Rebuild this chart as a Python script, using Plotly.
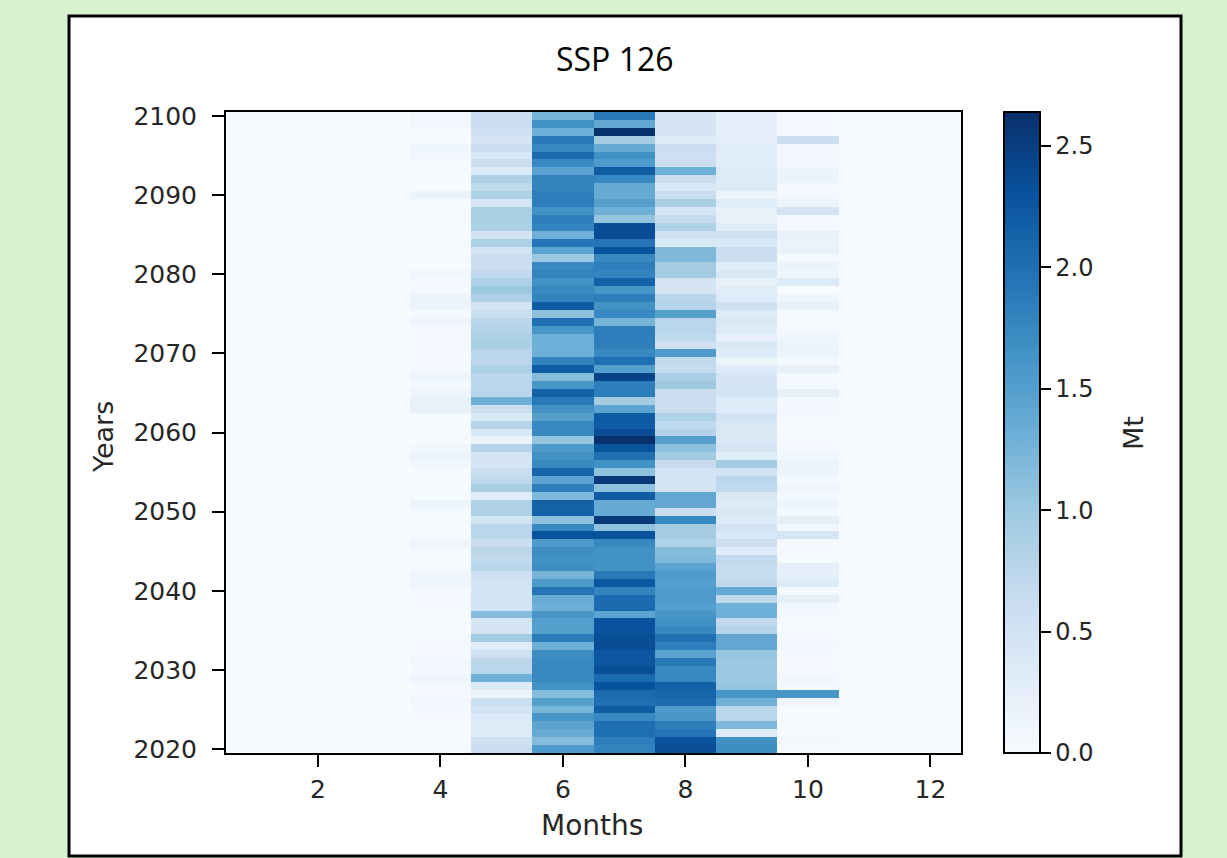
import plotly.graph_objects as go

# ---------------- data ----------------
months = [1, 2, 3, 4, 5, 6, 7, 8, 9, 10, 11, 12]
years = list(range(2020, 2101))

# monthly values (Mt) per year, 2020 -> 2100
jan = [0.0] * 81
feb = [0.0] * 81
mar = [0.0] * 81
apr = [.03, .03, .03, .03, .05, .05, .08, .05, .05, .12,
       .05, .08, .05, .05, .05, .03, .03, .03, .05, .05,
       .05, .12, .12, .05, .03, .05, .12, .05, .03, .03,
       .05, .15, .03, .03, .03, .03, .10, .15, .08, .03,
       .03, .03, .03, .20, .20, .12, .05, .15, .05, .05,
       .05, .05, .05, .05, .12, .05, .15, .15, .05, .05,
       .10, .03, .03, .03, .05, .03, .03, .03, .03, .03,
       .15, .03, .03, .03, .03, .10, .10, .03, .03, .08, .08]
may = [.60, .55, .35, .35, .35, .50, .60, .15, .35, 1.30,
       .75, .75, .55, .30, .95, .45, .45, 1.15, .50, .50,
       .50, .50, .55, .75, .70, .75, .60, .75, .75, .50,
       .85, .85, .30, .90, .70, .60, .45, .45, .80, .15,
       .40, .80, .40, .60, 1.30, .75, .75, .75, .85, .75,
       .75, .90, .85, .80, .75, .60, .50, .85, 1.00, .85,
       .70, .60, .60, .50, .85, .50, .85, .90, .90, .45,
       .85, .70, .85, .35, .60, .40, .60, .45, .55, .60, .60]
jun = [1.55, 1.15, 1.35, 1.45, 1.60, 1.25, 1.50, 1.15, 1.65, 1.75,
       1.75, 1.75, 1.70, 1.30, 1.85, 1.50, 1.50, 1.60, 1.30, 1.35,
       1.95, 1.55, 1.25, 1.70, 1.65, 1.70, 1.55, 2.30, 1.75, 1.10,
       2.15, 2.15, 1.20, 1.85, 1.45, 2.10, 1.75, 1.65, 1.55, 1.05,
       1.75, 1.75, 1.50, 1.65, 1.90, 2.15, 1.60, 1.15, 2.20, 1.80,
       1.30, 1.30, 1.30, 1.60, 2.00, 1.10, 2.20, 1.80, 1.75, 1.65,
       1.80, 1.75, 1.00, 1.45, 1.95, 1.30, 1.80, 1.85, 1.65, 1.85,
       1.85, 1.80, 1.80, 1.45, 1.75, 2.05, 1.75, 1.90, 1.30, 1.65, 1.25]
jul = [1.80, 1.85, 2.00, 2.00, 1.75, 2.20, 2.00, 2.05, 2.30, 2.05,
       2.35, 2.25, 2.25, 2.35, 2.35, 2.30, 2.30, 1.45, 2.05, 2.05,
       1.80, 2.25, 1.90, 1.65, 1.65, 1.65, 1.75, 2.30, 1.10, 2.55,
       1.35, 1.35, 2.20, 1.10, 2.55, 1.10, 1.65, 2.00, 2.30, 2.64,
       2.35, 2.20, 2.20, 1.45, 0.95, 1.85, 1.85, 2.45, 1.50, 2.00,
       1.75, 1.85, 1.85, 1.85, 1.25, 1.75, 1.65, 1.85, 1.60, 2.15,
       1.80, 1.85, 1.75, 2.30, 1.95, 2.35, 2.35, 1.05, 1.30, 1.50,
       1.35, 1.35, 1.75, 2.20, 1.55, 1.65, 1.35, 0.95, 2.64, 1.40, 1.90]
aug = [2.35, 2.30, 1.95, 1.85, 1.60, 1.55, 2.05, 2.10, 2.15, 1.75,
       1.75, 1.90, 1.45, 1.85, 2.00, 1.75, 1.65, 1.60, 1.50, 1.55,
       1.55, 1.50, 1.55, 1.45, 1.20, 1.15, .85, .95, .95, 1.75,
       .60, 1.40, 1.40, .50, .50, .50, .65, .95, 1.10, 1.50,
       .80, .70, .85, .60, .60, .60, 1.00, .90, .65, .70,
       1.55, .55, .70, .75, .75, 1.50, .80, .75, .45, .45,
       .95, .95, 1.20, 1.20, .40, .55, .85, .65, .45, .90,
       .60, .40, .60, 1.30, .60, .55, .60, .35, .45, .45, .45]
sep = [1.70, 1.65, .35, 1.20, .75, .75, 1.30, 1.60, 1.05, 1.00,
       1.00, 1.00, 1.05, 1.40, 1.40, .80, .70, 1.30, 1.30, .70,
       1.35, .70, .65, .65, .70, .35, .60, .40, .50, .35,
       .40, .35, .40, .70, .75, .50, .95, .30, .45, .40,
       .40, .40, .50, .35, .35, .50, .45, .45, .35, .15,
       .35, .40, .20, .35, .40, .35, .55, .35, .30, .20,
       .40, .30, .60, .60, .40, .55, .30, .20, .20, .30,
       .15, .35, .35, .35, .30, .30, .30, .25, .25, .25, .25]
octo = [.03, .08, .03, .03, .03, .03, .10, 1.60, .05, .10,
        .05, .05, .05, .08, .05, .05, .03, .05, .08, .25,
        .05, .35, .25, .25, .03, .05, .05, .45, .08, .25,
        .05, .15, .05, .12, .05, .15, .15, .10, .05, .05,
        .03, .03, .05, .08, .05, .25, .05, .05, .20, .05,
        .15, .15, .12, .05, .03, .05, .20, .12, .03, .35,
        .10, .15, .05, .20, .15, .20, .05, .05, .50, .15,
        .05, .05, .15, .15, .08, .08, .08, .60, .05, .05, .05]
nov = [0.0] * 81
dec = [0.0] * 81

x_ticks = [2, 4, 6, 8, 10, 12]
y_ticks = [2020, 2030, 2040, 2050, 2060, 2070, 2080, 2090, 2100]
cb_ticks = [0.0, 0.5, 1.0, 1.5, 2.0, 2.5]

columns = [jan, feb, mar, apr, may, jun, jul, aug, sep, octo, nov, dec]
z = [[col[i] for col in columns] for i in range(len(years))]

blues = [[0.0, "rgb(247,251,255)"], [0.125, "rgb(222,235,247)"],
         [0.25, "rgb(198,219,239)"], [0.375, "rgb(158,202,225)"],
         [0.5, "rgb(107,174,214)"], [0.625, "rgb(66,146,198)"],
         [0.75, "rgb(33,113,181)"], [0.875, "rgb(8,81,156)"],
         [1.0, "rgb(8,48,107)"]]

# ---------------- layout geometry (pixels) ----------------
W, H = 1227, 858
L, R, T, B = 226, 961, 112, 753
pw, ph = R - L, B - T


def px(xp):
    return (xp - L) / pw


def py(yp):
    return (B - yp) / ph


font_family = "DejaVu Sans"
txt = "#262626"
bg = "#d8f1d0"
tick_size = 25

axis_common = dict(
    showline=True, mirror=True, linecolor="black", linewidth=2,
    ticks="outside", ticklen=12, tickwidth=2, tickcolor="black",
    showgrid=False, zeroline=False,
    tickfont=dict(family=font_family, size=tick_size, color=txt),
)

fig = go.Figure()
fig.add_trace(go.Heatmap(
    x=months, y=years, z=z,
    zmin=0, zmax=2.64,
    colorscale=blues,
    colorbar=dict(
        x=px(1004), xanchor="left", xpad=0,
        y=0.5, yanchor="middle", ypad=0,
        len=641, lenmode="pixels",
        thickness=36, thicknessmode="pixels",
        outlinecolor="black", outlinewidth=2,
        tickvals=cb_ticks, ticktext=[f"{v:.1f}" for v in cb_ticks],
        ticks="outside", ticklen=10, tickwidth=2, tickcolor="black",
        tickfont=dict(family=font_family, size=24, color=txt),
    ),
    hoverongaps=False,
))

fig.update_layout(
    width=W, height=H,
    margin=dict(l=L, r=W - R, t=T, b=H - B, pad=0),
    paper_bgcolor=bg,
    plot_bgcolor="white",
    showlegend=False,
    xaxis=dict(range=[0.5, 12.5], tickvals=x_ticks, ticklabelstandoff=1,
               **axis_common),
    yaxis=dict(range=[2019.5, 2100.5], tickvals=y_ticks, ticklabelstandoff=10,
               **axis_common),
    shapes=[dict(
        type="rect", xref="paper", yref="paper", layer="below",
        x0=px(69), x1=px(1181), y0=py(16), y1=py(856),
        fillcolor="white", line=dict(color="black", width=3),
    )],
    annotations=[
        dict(text="SSP 126", x=px(615), y=py(58), xref="paper", yref="paper",
             showarrow=False, xanchor="center", yanchor="middle",
             font=dict(family="Open Sans", size=32, color="black")),
        dict(text="Years", x=px(103), y=py(437), xref="paper", yref="paper",
             showarrow=False, xanchor="center", yanchor="middle", textangle=-90,
             font=dict(family=font_family, size=27, color=txt)),
        dict(text="Months", x=px(592), y=py(825), xref="paper", yref="paper",
             showarrow=False, xanchor="center", yanchor="middle",
             font=dict(family=font_family, size=28, color=txt)),
        dict(text="Mt", x=px(1133), y=py(433), xref="paper", yref="paper",
             showarrow=False, xanchor="center", yanchor="middle", textangle=-90,
             font=dict(family=font_family, size=27, color=txt)),
    ],
)

fig.write_html(
    "out.html",
    config={"displayModeBar": False},
    post_script="document.body.style.margin='0px';"
                "document.body.style.background='" + bg + "';",
)
